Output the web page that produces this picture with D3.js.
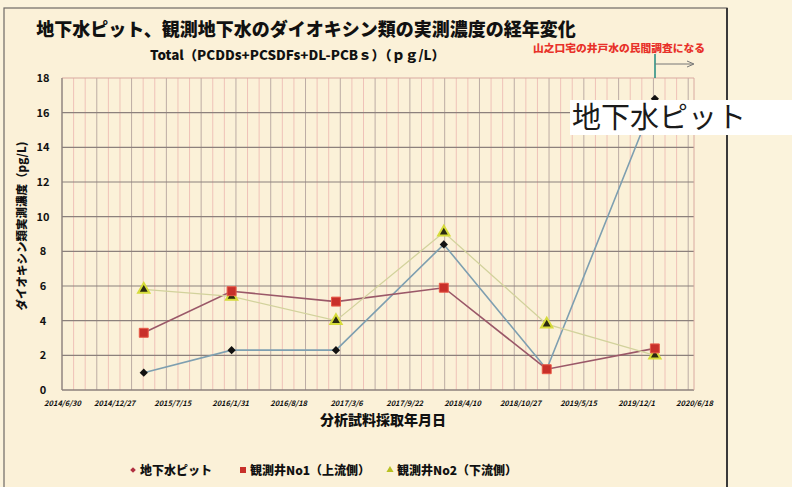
<!DOCTYPE html>
<html>
<head>
<meta charset="utf-8">
<script src="https://cdn.jsdelivr.net/npm/d3@7"></script>
<style>
  body { margin: 0; background: #fbf3dc; }
  svg { display: block; }
  text { font-family: "Noto Sans CJK JP", "Noto Sans", sans-serif; }
</style>
</head>
<body>
<div id="chart"></div>
<script>
// data
const sampleDates = ["2015-04-08", "2016-02-05", "2017-01-30", "2018-02-06", "2019-01-27", "2020-02-04"];
const pitValues = [1.0, 2.3, 2.3, 8.4, 1.2, 16.8];     // 地下水ピット
const well1Values = [3.3, 5.7, 5.1, 5.9, 1.2, 2.4];    // 観測井No1（上流側）
const well2Values = [5.8, 5.4, 4.0, 9.1, 3.8, 2.0];    // 観測井No2（下流側）
const seriesNames = ["地下水ピット", "観測井No1（上流側）", "観測井No2（下流側）"];
const xTickLabels = ["2014/6/30", "2014/12/27", "2015/7/15", "2016/1/31", "2016/8/18", "2017/3/6",
                     "2017/9/22", "2018/4/10", "2018/10/27", "2019/5/15", "2019/12/1", "2020/6/18"];
const yTicks = [0, 2, 4, 6, 8, 10, 12, 14, 16, 18];

const width = 792, height = 487;
const plotL = 62, plotR = 694, plotT = 78, plotB = 390;

const parse = d3.timeParse("%Y-%m-%d");
const parseTick = d3.timeParse("%Y/%m/%d");
const tickDates = xTickLabels.map(parseTick);

const x = d3.scaleTime()
  .domain([tickDates[0], tickDates[tickDates.length - 1]])
  .range([plotL, plotR]);
const y = d3.scaleLinear().domain([0, 18]).range([plotB, plotT]);

const svg = d3.select("#chart").append("svg")
  .attr("width", width)
  .attr("height", height);

// paper + frame
svg.append("rect").attr("width", width).attr("height", height).attr("fill", "#fbf3dc");
svg.append("rect").attr("x", 4).attr("y", 8).attr("width", 723).attr("height", 490)
  .attr("fill", "#fbf1d8").attr("stroke", "#6e6a66").attr("stroke-width", 1.2);
svg.append("line").attr("x1", 727).attr("x2", 727).attr("y1", 8).attr("y2", height)
  .attr("stroke", "#3a3a3a").attr("stroke-width", 2);

// minor vertical grid every 40 days
const minor = d3.timeDay.range(tickDates[0], d3.timeDay.offset(tickDates[tickDates.length - 1], 1), 40);
svg.append("g").selectAll("line").data(minor).join("line")
  .attr("x1", d => x(d)).attr("x2", d => x(d))
  .attr("y1", plotT).attr("y2", plotB)
  .attr("stroke", (d, i) => i % 3 === 0 ? "#bcaca4" : "#efc2b8")
  .attr("stroke-width", 1);

// horizontal grid
svg.append("g").selectAll("line").data(yTicks).join("line")
  .attr("x1", plotL).attr("x2", plotR)
  .attr("y1", d => y(d)).attr("y2", d => y(d))
  .attr("stroke", d => d === 18 ? "#d9aaa0" : "#8c817c")
  .attr("stroke-width", d => d === 0 ? 1.4 : 1.1);
svg.append("line").attr("x1", plotL).attr("x2", plotL).attr("y1", plotT).attr("y2", plotB)
  .attr("stroke", "#8c817c").attr("stroke-width", 1.2);
svg.append("line").attr("x1", plotR).attr("x2", plotR).attr("y1", plotT).attr("y2", plotB)
  .attr("stroke", "#d9aaa0").attr("stroke-width", 1);

// axes
const yAxis = svg.append("g").attr("transform", `translate(${plotL},0)`)
  .call(d3.axisLeft(y).tickValues(yTicks).tickSize(0).tickPadding(12));
yAxis.select(".domain").remove();
yAxis.selectAll("text").attr("font-size", 11).attr("font-weight", 700).attr("fill", "#111")
  .attr("text-anchor", "middle").attr("x", -19);

const xAxis = svg.append("g").attr("transform", `translate(0,${plotB})`)
  .call(d3.axisBottom(x).tickValues(tickDates).tickSize(0).tickPadding(11)
    .tickFormat((d, i) => xTickLabels[i]));
xAxis.select(".domain").remove();
xAxis.selectAll("text").attr("font-size", 7.5).attr("font-weight", 700).attr("fill", "#111")
  .attr("font-style", "italic");

// titles
svg.append("text").attr("x", 306).attr("y", 36).attr("text-anchor", "middle")
  .attr("font-size", 18).attr("font-weight", 900).attr("fill", "#111")
  .text("地下水ピット、観測地下水のダイオキシン類の実測濃度の経年変化");
svg.append("text").attr("x", 150).attr("y", 60)
  .attr("font-size", 13).attr("font-weight", 900).attr("fill", "#111")
  .attr("textLength", 295).attr("lengthAdjust", "spacingAndGlyphs")
  .text("Total（PCDDs+PCSDFs+DL-PCBｓ）（ｐｇ/L）");
svg.append("text").attr("transform", "translate(26,226) rotate(-90)").attr("text-anchor", "middle")
  .attr("font-size", 11.5).attr("font-weight", 900).attr("fill", "#111")
  .text("ダイオキシン類実測濃度（pg/L)");
svg.append("text").attr("x", 383).attr("y", 425).attr("text-anchor", "middle")
  .attr("font-size", 14).attr("font-weight", 900).attr("fill", "#111")
  .text("分析試料採取年月日");

// red note with marker line and arrow
svg.append("text").attr("x", 533).attr("y", 52)
  .attr("font-size", 10).attr("font-weight", 900).attr("fill", "#e8322a")
  .attr("textLength", 172).attr("lengthAdjust", "spacingAndGlyphs")
  .text("山之口宅の井戸水の民間調査になる");
svg.append("line").attr("x1", 655).attr("x2", 655).attr("y1", 54).attr("y2", 78)
  .attr("stroke", "#1f8a80").attr("stroke-width", 1.5);
svg.append("line").attr("x1", 655).attr("x2", 693).attr("y1", 64).attr("y2", 64)
  .attr("stroke", "#777").attr("stroke-width", 1);
svg.append("path").attr("d", "M687,61 L694,64 L687,67").attr("fill", "none")
  .attr("stroke", "#777").attr("stroke-width", 1);

// series lines
const dates = sampleDates.map(parse);
const series = [
  { name: seriesNames[0], values: pitValues, line: "#7e9fb0", width: 1.6 },
  { name: seriesNames[1], values: well1Values, line: "#9a5868", width: 1.6 },
  { name: seriesNames[2], values: well2Values, line: "#d2d29c", width: 1.3 }
];
const line = d3.line().x((d, i) => x(dates[i])).y(d => y(d));
svg.append("g").selectAll("path").data(series).join("path")
  .attr("d", d => line(d.values))
  .attr("fill", "none")
  .attr("stroke", d => d.line)
  .attr("stroke-width", d => d.width);

// markers
const diamond = d3.symbol().type(d3.symbolSquare).size(34);
const square = d3.symbol().type(d3.symbolSquare).size(80);
const triangle = d3.symbol().type(d3.symbolTriangle).size(55);

svg.append("g").selectAll("path").data(well2Values).join("path")
  .attr("transform", (d, i) => `translate(${x(dates[i])},${y(d)})`)
  .attr("d", triangle).attr("fill", "#2a2a10").attr("stroke", "#d6dc3a").attr("stroke-width", 2);
svg.append("g").selectAll("path").data(pitValues).join("path")
  .attr("transform", (d, i) => `translate(${x(dates[i])},${y(d)}) rotate(45)`)
  .attr("d", diamond).attr("fill", "#111");
svg.append("g").selectAll("path").data(well1Values).join("path")
  .attr("transform", (d, i) => `translate(${x(dates[i])},${y(d)})`)
  .attr("d", square).attr("fill", "#c8302a").attr("stroke", "#e85a48").attr("stroke-width", 1);

// legend
const legendX = [133, 243, 390];
const legend = svg.append("g").selectAll("g").data(series).join("g")
  .attr("transform", (d, i) => `translate(${legendX[i]},470)`);
legend.append("path")
  .attr("d", (d, i) => [d3.symbol().type(d3.symbolSquare).size(16)(),
                        d3.symbol().type(d3.symbolSquare).size(36)(),
                        d3.symbol().type(d3.symbolTriangle).size(22)()][i])
  .attr("transform", (d, i) => i === 0 ? "rotate(45)" : null)
  .attr("fill", (d, i) => ["#b03040", "#c8302a", "#b8c020"][i]);
legend.append("text").attr("x", 7).attr("y", 4.5)
  .attr("font-size", 12).attr("font-weight", 900).attr("fill", "#111")
  .text(d => d.name);

// pasted label over the plot
svg.append("rect").attr("x", 570).attr("y", 100).attr("width", 222).attr("height", 35).attr("fill", "#fff");
svg.append("text").attr("x", 572).attr("y", 128)
  .attr("font-size", 29).attr("fill", "#1a1a1a")
  .text("地下水ピット");
</script>
</body>
</html>
